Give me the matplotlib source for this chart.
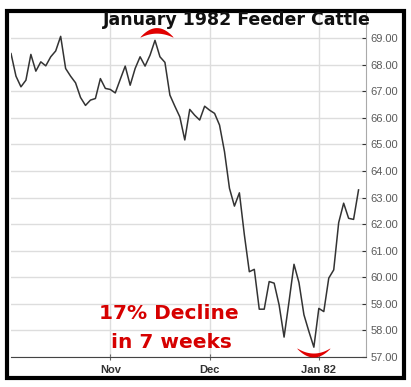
import matplotlib.pyplot as plt
import numpy as np
import pandas as pd
from matplotlib.patches import Rectangle

plt.rcParams['font.family'] = ['Liberation Sans', 'DejaVu Sans']

# daily settlement, Jan 1982 feeder cattle
prices = [68.42, 67.57, 67.17, 67.42, 68.39, 67.76, 68.11, 67.96, 68.30, 68.52,
          69.07, 67.86, 67.57, 67.32, 66.77, 66.47, 66.67, 66.73, 67.48, 67.11,
          67.07, 66.94, 67.45, 67.95, 67.23, 67.86, 68.30, 67.95, 68.36, 68.92,
          68.30, 68.09, 66.86, 66.44, 66.04, 65.17, 66.32, 66.10, 65.92, 66.44,
          66.29, 66.17, 65.73, 64.73, 63.35, 62.68, 63.18, 61.60, 60.21, 60.30,
          58.80, 58.80, 59.84, 59.78, 58.96, 57.75, 59.09, 60.49, 59.80, 58.59,
          57.96, 57.37, 58.83, 58.71, 59.97, 60.28, 62.06, 62.79, 62.22, 62.18,
          63.29]
holidays = ['1981-11-26', '1981-12-25', '1982-01-01']
month_labels = ['Nov', 'Dec', 'Jan 82']
y_ticks = list(range(57, 70))

days = pd.bdate_range('1981-10-05', periods=len(prices) + 3, freq='B')
days = days[~days.isin(pd.to_datetime(holidays))][:len(prices)]
idx = np.arange(len(prices))
# first trading day of each new month
month_pos = [i for i in range(1, len(days)) if days[i].month != days[i - 1].month]

fig = plt.figure(figsize=(4.11, 3.87), dpi=100)
ax = fig.add_axes([0.0268, 0.0775, 0.8637, 0.889])

ax.plot(idx, prices, color='#333333', lw=1.1, zorder=3)

ax.set_xlim(0, 71.5)
ax.set_ylim(57, 69.95)
ax.set_xticks(month_pos)
ax.set_xticklabels(month_labels, fontsize=8, fontweight='bold', color='#333333')
ax.set_yticks(y_ticks)
ax.set_yticklabels(['%.2f' % v for v in y_ticks], fontsize=8, color='#5a5a5a')
ax.yaxis.tick_right()
ax.tick_params(axis='y', direction='in', length=3, pad=3, color='#333333')
ax.tick_params(axis='x', direction='inout', length=4, pad=4, color='#666666')
ax.grid(True, color='#dddddd', lw=1)
ax.set_axisbelow(True)
for s in ['left', 'top']:
    ax.spines[s].set_visible(False)
ax.spines['right'].set_color('#aaaaaa')
ax.spines['bottom'].set_color('#444444')

# red crescent marks at the high and the low
t = np.linspace(-1, 1, 60)
xt = 29.3 + 3.3 * t
ax.fill_between(xt, 69.04 + 0.15 * (1 - t ** 2), 69.06 + 0.34 * (1 - t ** 2),
                color='#e00000', lw=0, clip_on=False, zorder=4)
xb = 60.9 + 3.3 * t
ax.fill_between(xb, 57.34 - 0.19 * (1 - t ** 2), 57.32 - 0.32 * (1 - t ** 2),
                color='#e00000', lw=0, clip_on=False, zorder=4)

fig.text(0.577, 0.948, 'January 1982 Feeder Cattle', ha='center', va='center',
         fontsize=12.5, fontweight='bold', color='#111111', family='DejaVu Sans')
fig.text(0.411, 0.191, '17% Decline', ha='center', va='center',
         fontsize=14.5, fontweight='bold', color='#d60000', family='DejaVu Sans')
fig.text(0.418, 0.114, 'in 7 weeks', ha='center', va='center',
         fontsize=14.5, fontweight='bold', color='#d60000', family='DejaVu Sans')

fig.patches.append(Rectangle((0.017, 0.023), 0.966, 0.949, transform=fig.transFigure,
                             fill=False, edgecolor='black', lw=3))

fig.savefig('out.png', dpi=100)
